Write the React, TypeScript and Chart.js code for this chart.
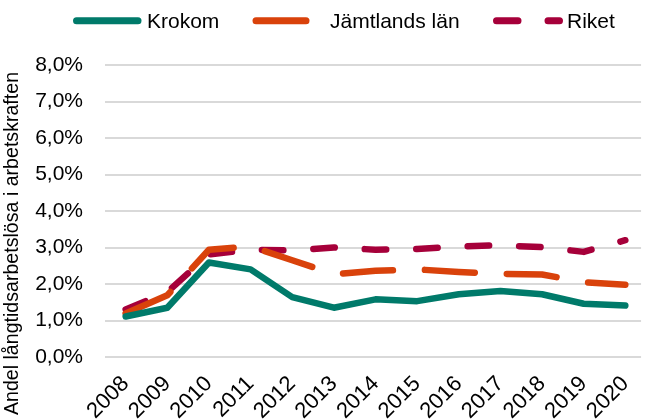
import React, { useEffect, useRef } from "react";
import { Chart, registerables } from "chart.js";

Chart.register(...registerables);

const years = [2008, 2009, 2010, 2011, 2012, 2013, 2014, 2015, 2016, 2017, 2018, 2019, 2020];
const krokom = [1.11, 1.35, 2.59, 2.40, 1.64, 1.35, 1.58, 1.53, 1.72, 1.81, 1.72, 1.46, 1.41];
const jamtland = [1.19, 1.69, 2.94, 3.03, 2.65, 2.27, 2.36, 2.40, 2.33, 2.28, 2.26, 2.05, 1.98];
const riket = [1.30, 1.78, 2.81, 2.94, 2.92, 3.00, 2.94, 2.96, 3.03, 3.06, 3.01, 2.88, 3.20];
const seriesNames = ["Krokom", "Jämtlands län", "Riket"];
const yTicks = [0, 1, 2, 3, 4, 5, 6, 7, 8];
const yTitle = "Andel långtidsarbetslösa i arbetskraften";

const COLORS = ["#007a6a", "#d9420b", "#a6003a"];
const DASHES: number[][] = [[], [50, 32], [21.5, 30]];
const LW = 6.5;
const FONT = "'Liberation Sans', Arial, sans-serif";

const overlayPlugin = {
  id: "overlay",
  afterDraw(chart: any) {
    const ctx = chart.ctx;
    ctx.save();
    // y-axis title
    ctx.font = `19.6px ${FONT}`;
    ctx.fillStyle = "#000";
    ctx.translate(18, 243.5);
    ctx.rotate(-Math.PI / 2);
    ctx.textAlign = "center";
    ctx.textBaseline = "alphabetic";
    ctx.fillText(yTitle, 0, 0);
    ctx.restore();

    // legend
    const items = [
      { x1: 76.5, x2: 138, tx: 147 },
      { x1: 256, x2: 308, tx: 330 },
      { x1: 496.5, x2: 559.5, tx: 567 },
    ];
    ctx.save();
    items.forEach((it, i) => {
      ctx.beginPath();
      ctx.strokeStyle = COLORS[i];
      ctx.lineWidth = LW + 0.5;
      ctx.lineCap = "round";
      ctx.setLineDash(DASHES[i]);
      ctx.moveTo(it.x1, 20.7);
      ctx.lineTo(it.x2, 20.7);
      ctx.stroke();
      ctx.setLineDash([]);
      ctx.font = `21px ${FONT}`;
      ctx.fillStyle = "#000";
      ctx.textAlign = "left";
      ctx.textBaseline = "alphabetic";
      ctx.fillText(seriesNames[i], it.tx, 28.3);
    });
    ctx.restore();
  },
};

export default function App() {
  const ref = useRef<HTMLCanvasElement | null>(null);
  useEffect(() => {
    if (!ref.current) return;
    const mk = (vals: number[]) => years.map((y, i) => ({ x: y, y: vals[i] }));
    const all = [krokom, jamtland, riket];
    const chart = new Chart(ref.current, {
      type: "line",
      data: {
        datasets: all.map((vals, i) => ({
          label: seriesNames[i],
          data: mk(vals),
          borderColor: COLORS[i],
          backgroundColor: COLORS[i],
          borderWidth: LW,
          borderDash: DASHES[i],
          borderCapStyle: "round",
          borderJoinStyle: "round",
          pointRadius: 0,
          pointHoverRadius: 0,
          tension: 0,
          fill: false,
        })),
      },
      options: {
        responsive: false,
        animation: false,
        events: [],
        layout: { padding: { top: 65, left: 0, right: 0, bottom: 0 } },
        plugins: {
          legend: { display: false },
          tooltip: { enabled: false },
          title: { display: false },
        },
        scales: {
          x: {
            type: "linear",
            min: 2007.504,
            max: 2020.378,
            afterBuildTicks: (s: any) => {
              s.ticks = years.map((v) => ({ value: v }));
            },
            afterFit: (s: any) => {
              s.height = 62;
            },
            grid: { display: false },
            border: { display: false },
            ticks: {
              autoSkip: false,
              minRotation: 45,
              maxRotation: 45,
              padding: 6,
              color: "#000",
              font: { family: FONT, size: 22 },
              callback: (v: any) => String(v),
            },
          },
          y: {
            min: 0,
            max: 8,
            afterBuildTicks: (s: any) => {
              s.ticks = yTicks.map((v) => ({ value: v }));
            },
            afterFit: (s: any) => {
              s.width = 105;
            },
            grid: { color: "#d9d9d9", lineWidth: 2, drawTicks: false },
            border: { display: false },
            ticks: {
              padding: 22,
              color: "#000",
              font: { family: FONT, size: 21 },
              callback: (v: any) => Number(v).toFixed(1).replace(".", ",") + "%",
            },
          },
        },
      },
      plugins: [overlayPlugin],
    } as any);
    return () => chart.destroy();
  }, []);
  return (
    <div style={{ position: "absolute", left: 0, top: 0, width: 650, height: 419, background: "#fff" }}>
      <canvas ref={ref} width={650} height={419} style={{ display: "block" }} />
    </div>
  );
}
